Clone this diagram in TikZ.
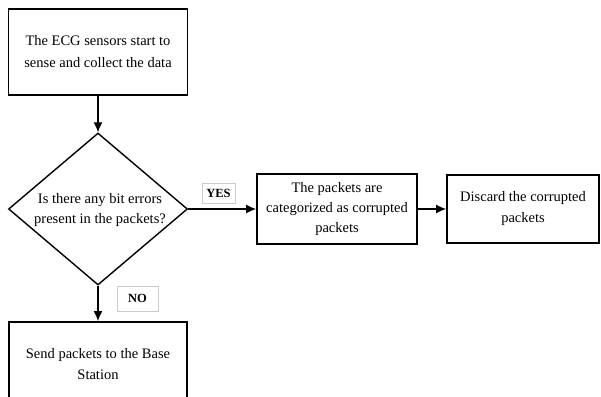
\documentclass[tikz,border=0pt]{standalone}
\usepackage{fontspec}
\setmainfont{Liberation Serif}
\usetikzlibrary{shapes.geometric,arrows.meta}
\begin{document}
\begin{tikzpicture}[x=1pt,y=-1pt,
  box/.style={draw,line width=1.8pt,inner sep=0pt,align=center,font=\fontsize{14.5}{21}\selectfont},
  lbl/.style={draw=black!20,line width=0.6pt,inner sep=0pt,font=\fontsize{12.5}{14}\selectfont\bfseries},
  arr/.style={line width=1.3pt,-{Latex[length=10pt,width=9pt]}},
  txt/.style={align=center,inner sep=0pt,font=\fontsize{14.5}{20}\selectfont}]
\useasboundingbox (0,0) rectangle (601,396);
\begin{scope}
\clip (0,0) rectangle (601,396);
\node[box,minimum width=179pt,minimum height=86pt,font=\fontsize{14.5}{22}\selectfont] (start) at (98,52) {The ECG sensors start to\\sense and collect the data};
\node[draw,diamond,line width=1.4pt,minimum width=179pt,minimum height=152pt,inner sep=0pt] (dec) at (98,209) {};
\node[txt] (dectxt) at (100,210) {Is there any bit errors\\present in the packets?};
\node[box,minimum width=160pt,minimum height=70pt,font=\fontsize{14.5}{20}\selectfont] (cat) at (337,209) {The packets are\\categorized as corrupted\\packets};
\node[box,minimum width=152pt,minimum height=68pt] (disc) at (523,209) {Discard the corrupted\\packets};
\node[box,minimum width=178pt,minimum height=84pt] (send) at (98,364) {Send packets to the Base\\Station};
\node[lbl,minimum width=33pt,minimum height=20pt] (yes) at (218.5,193) {YES};
\node[lbl,minimum width=41pt,minimum height=25pt] (no) at (137.5,298.5) {NO};
\draw[arr] (start.south) -- (dec.north);
\draw[arr] (dec.east) -- (cat.west);
\draw[arr] (cat.east) -- (disc.west);
\draw[arr] (dec.south) -- (send.north);
\end{scope}
\end{tikzpicture}
\end{document}
